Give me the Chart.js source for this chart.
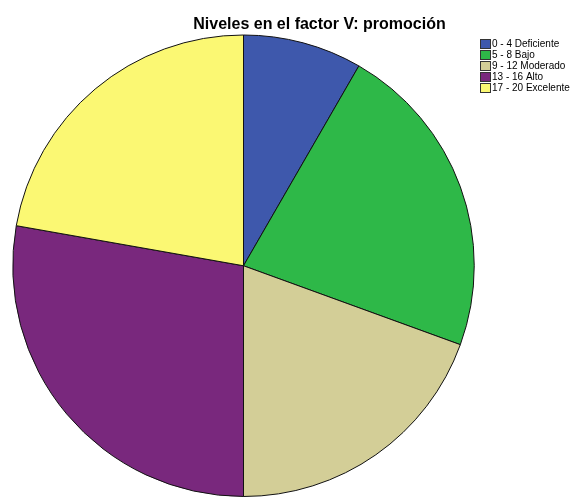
<!DOCTYPE html>
<html>
<head>
<meta charset="utf-8">
<script src="https://cdn.jsdelivr.net/npm/chart.js@4"></script>
<style>
  html, body { margin: 0; padding: 0; background: #ffffff; }
  #cadre { position: relative; width: 577px; height: 497px; }
</style>
</head>
<body>
<div id="cadre"><canvas id="grafico" width="577" height="497"></canvas></div>
<script>
// Niveles del factor V (promoción): frecuencias por categoría
const categorias = ['0 - 4 Deficiente', '5 - 8 Bajo', '9 - 12 Moderado', '13 - 16 Alto', '17 - 20 Excelente'];
const frecuencias = [3, 8, 7, 10, 8];
const colores = ['#3E58AC', '#2EB848', '#D3CE97', '#79287D', '#FBF873'];
const titulo = 'Niveles en el factor V: promoción';

// Leyenda y título dibujados a mano, al estilo del visor de resultados
const leyendaManual = {
  id: 'leyendaManual',
  afterDraw(chart) {
    const ctx = chart.ctx;
    ctx.save();
    ctx.fillStyle = '#000000';
    ctx.font = 'bold 16px "Liberation Sans", Arial, sans-serif';
    ctx.textAlign = 'center';
    ctx.textBaseline = 'alphabetic';
    ctx.fillText(titulo, 319.5, 28.5);

    ctx.font = '10px "Liberation Sans", Arial, sans-serif';
    ctx.textAlign = 'left';
    ctx.textBaseline = 'middle';
    chart.data.labels.forEach((etiqueta, i) => {
      const y = 39 + i * 11;
      ctx.fillStyle = chart.data.datasets[0].backgroundColor[i];
      ctx.fillRect(480.5, y + 0.5, 10, 9);
      ctx.strokeStyle = '#333333';
      ctx.lineWidth = 1;
      ctx.strokeRect(480.5, y + 0.5, 10, 9);
      ctx.fillStyle = '#000000';
      ctx.fillText(etiqueta, 492, y + 5.5);
    });
    ctx.restore();
  }
};

const ctx = document.getElementById('grafico').getContext('2d');
new Chart(ctx, {
  type: 'pie',
  data: {
    labels: categorias,
    datasets: [{
      data: frecuencias,
      backgroundColor: colores,
      borderColor: '#111111',
      borderWidth: 1
    }]
  },
  options: {
    responsive: false,
    animation: false,
    layout: { padding: { left: 12, right: 102, top: 34.5, bottom: 0 } },
    plugins: {
      legend: { display: false },
      title: { display: false },
      tooltip: { enabled: false }
    }
  },
  plugins: [leyendaManual]
});
</script>
</body>
</html>
